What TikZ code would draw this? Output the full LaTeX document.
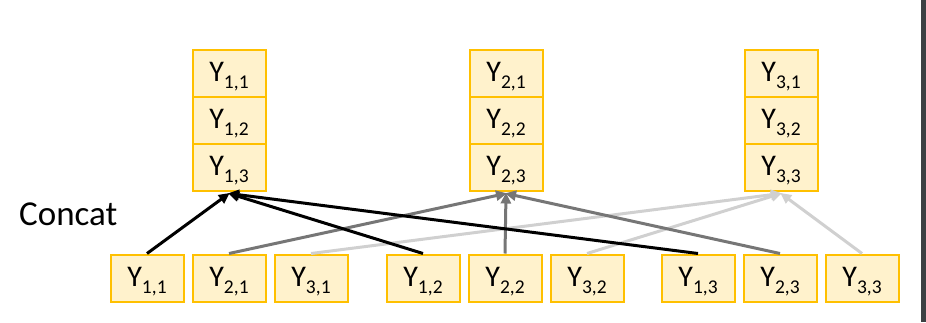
\documentclass[tikz,border=0pt]{standalone}
\usepackage{fontspec}
\setmainfont{Carlito}
\usetikzlibrary{arrows.meta}
\definecolor{cellfill}{HTML}{FFF2CC}
\definecolor{cellline}{HTML}{FFC000}
\definecolor{linkA}{HTML}{000000}
\definecolor{linkB}{HTML}{767676}
\definecolor{linkC}{HTML}{D0D0D0}
\definecolor{sidebar}{HTML}{3C4043}
\tikzset{
  cell/.style={draw=cellline, fill=cellfill, line width=2pt,
    minimum width=73pt, minimum height=47pt, inner sep=0pt,
    text height=23pt, text depth=6pt,
    font=\fontsize{30}{32}\selectfont},
  link/.style={line width=3pt, -{Triangle[length=11pt,width=10pt]}, shorten >=-1pt}
}
% Y with a lowered text subscript
\newcommand{\yv}[2]{Y\raisebox{-7pt}{\fontsize{19.5}{20}\selectfont #1,#2}}
\begin{document}
\begin{tikzpicture}[x=1pt,y=-1pt]
  \useasboundingbox (0,0) rectangle (926,322);
  \fill[sidebar] (921,0) rectangle (926,322);

  % concatenated output columns
  \foreach \i/\x in {1/229,2/506,3/781} {
    \node[cell] (t\i1) at (\x,73) {\yv{\i}{1}};
    \node[cell] (t\i2) at (\x,120) {\yv{\i}{2}};
    \node[cell] (t\i3) at (\x,167) {\yv{\i}{3}};
    \coordinate (in\i) at ([yshift=-2pt]t\i3.south);
  }

  \node[font=\fontsize{35}{38}\selectfont, anchor=base west, inner sep=0pt] (concat) at (19,225) {Concat};

  % inputs
  \node[cell] (b11) at (147,278) {\yv{1}{1}};
  \node[cell] (b21) at (229,278) {\yv{2}{1}};
  \node[cell] (b31) at (311,278) {\yv{3}{1}};
  \node[cell] (b12) at (423,278) {\yv{1}{2}};
  \node[cell] (b22) at (505,278) {\yv{2}{2}};
  \node[cell] (b32) at (587,278) {\yv{3}{2}};
  \node[cell] (b13) at (698,278) {\yv{1}{3}};
  \node[cell] (b23) at (780,278) {\yv{2}{3}};
  \node[cell] (b33) at (862,278) {\yv{3}{3}};

  % links to the concatenated columns
  \foreach \j in {1,2,3} {
    \draw[link, linkC] (b3\j.north) -- (in3);
  }
  \foreach \j in {1,2,3} {
    \draw[link, linkB] (b2\j.north) -- (in2);
  }
  \foreach \j in {1,2,3} {
    \draw[link, linkA] (b1\j.north) -- (in1);
  }
\end{tikzpicture}
\end{document}
